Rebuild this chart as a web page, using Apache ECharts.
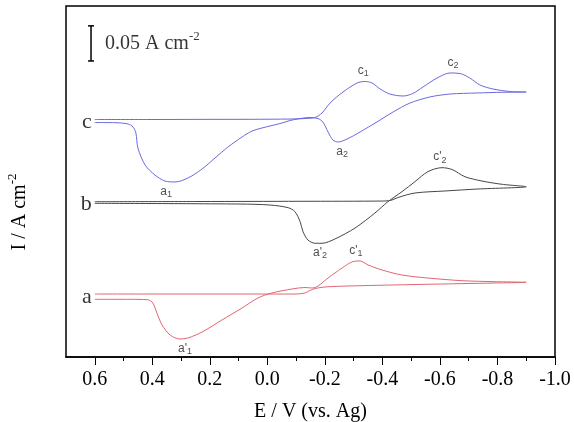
<!DOCTYPE html>
<html>
<head>
<meta charset="utf-8">
<script src="https://cdn.jsdelivr.net/npm/echarts@6/dist/echarts.min.js"></script>
<style>
    html, body { margin: 0; padding: 0; background: #fff; }
    #chart { width: 574px; height: 422px; }
</style>
</head>
<body>
<div id="chart"></div>
<script>
// E in V (vs. Ag), I in A cm^-2 (each curve shifted up for display)
const curveA = [
    [0.60, 0.0897], [-0.096, 0.0897], [-0.131, 0.0912], [-0.148, 0.0947], [-0.169, 0.0979],
    [-0.211, 0.1001], [-0.329, 0.1016], [-0.558, 0.1036], [-0.791, 0.1054], [-0.90, 0.1064],
    [-0.791, 0.1073], [-0.677, 0.1087], [-0.558, 0.1125], [-0.468, 0.1168], [-0.399, 0.1239],
    [-0.350, 0.1311], [-0.322, 0.1368], [-0.298, 0.1360], [-0.260, 0.1268], [-0.211, 0.1125],
    [-0.176, 0.1011], [-0.155, 0.0983], [-0.131, 0.0990], [-0.086, 0.0969], [-0.016, 0.0912],
    [0.033, 0.0840], [0.088, 0.0698], [0.158, 0.0527], [0.227, 0.0356], [0.276, 0.0271],
    [0.304, 0.0256], [0.338, 0.0313], [0.366, 0.0456], [0.384, 0.0627], [0.398, 0.0769],
    [0.415, 0.0815], [0.478, 0.0822], [0.60, 0.0822]
];
const curveB = [
    [0.60, 0.2212], [0.234, 0.2215], [-0.114, 0.2218], [-0.409, 0.2222], [-0.433, 0.2236],
    [-0.454, 0.2272], [-0.513, 0.2336], [-0.618, 0.2365], [-0.732, 0.2393], [-0.90, 0.2426],
    [-0.816, 0.2460], [-0.746, 0.2507], [-0.687, 0.2568], [-0.642, 0.2671], [-0.607, 0.2697],
    [-0.558, 0.2640], [-0.513, 0.2497], [-0.468, 0.2355], [-0.419, 0.2212], [-0.374, 0.2051],
    [-0.305, 0.1838], [-0.235, 0.1681], [-0.190, 0.1620], [-0.166, 0.1620], [-0.141, 0.1667],
    [-0.124, 0.1785], [-0.114, 0.1927], [-0.096, 0.2070], [-0.072, 0.2127], [-0.009, 0.2165],
    [0.095, 0.2179], [0.60, 0.2189]
];
const curveC = [
    [0.60, 0.3383], [0.408, 0.3383], [0.234, 0.3385], [0.060, 0.3386], [-0.079, 0.3390],
    [-0.131, 0.3397], [-0.166, 0.3412], [-0.190, 0.3476], [-0.218, 0.3618], [-0.263, 0.3775],
    [-0.312, 0.3903], [-0.339, 0.3925], [-0.364, 0.3903], [-0.392, 0.3818], [-0.426, 0.3746],
    [-0.472, 0.3718], [-0.506, 0.3754], [-0.541, 0.3846], [-0.590, 0.3974], [-0.635, 0.4046],
    [-0.670, 0.4038], [-0.704, 0.3974], [-0.739, 0.3875], [-0.784, 0.3818], [-0.844, 0.3782],
    [-0.90, 0.3775],
    [-0.819, 0.3771], [-0.729, 0.3761], [-0.635, 0.3746], [-0.565, 0.3704], [-0.496, 0.3618],
    [-0.437, 0.3490], [-0.381, 0.3348], [-0.322, 0.3205], [-0.277, 0.3105], [-0.246, 0.3063],
    [-0.228, 0.3091], [-0.211, 0.3205], [-0.193, 0.3348], [-0.176, 0.3397], [-0.148, 0.3412],
    [-0.114, 0.3397], [-0.079, 0.3369], [-0.051, 0.3333], [0.019, 0.3262], [0.053, 0.3219],
    [0.088, 0.3134], [0.137, 0.2991], [0.182, 0.2835], [0.227, 0.2678], [0.276, 0.2550],
    [0.321, 0.2493], [0.356, 0.2507], [0.391, 0.2593], [0.425, 0.2735], [0.450, 0.2977],
    [0.457, 0.3191], [0.467, 0.3276], [0.484, 0.3319], [0.530, 0.3338], [0.60, 0.3340]
];
const curveTags = ['a', 'b', 'c'];

// peak labels: name, E, I
const peakLabels = [
    ['c1', -0.333, 0.3925],
    ['c2', -0.645, 0.4046],
    ['a2', -0.260, 0.3063],
    ['a1', 0.352, 0.2493],
    ["c'2", -0.600, 0.2697],
    ["a'2", -0.183, 0.1620],
    ["c'1", -0.308, 0.1368],
    ["a'1", 0.286, 0.0256]
];

// scale bar, 0.05 A cm^-2
const scaleBar = [[0.613, 0.4217], [0.613, 0.4717]];

const xLabelValues = [0.6, 0.4, 0.2, 0.0, -0.2, -0.4, -0.6, -0.8, -1.0];
const xMinorValues = [0.5, 0.3, 0.1, -0.1, -0.3, -0.5, -0.7, -0.9];

const serif = '"Liberation Serif", "Times New Roman", serif';
const sans = '"Liberation Sans", Arial, sans-serif';
const colors = { a: '#e26670', b: '#474747', c: '#6a6ade' };

const curves = { a: curveA, b: curveB, c: curveC };

function peakText(name) {
    return '{b|' + name.slice(0, -1) + '}{s|' + name.slice(-1) + '}';
}
const peakRich = {
    b: { fontFamily: sans, fontSize: 12, color: '#222', lineHeight: 14 },
    s: { fontFamily: sans, fontSize: 9, color: '#222', padding: [6, 0, 0, 0] }
};

const series = curveTags.map(function (k) {
    return {
        type: 'line',
        data: curves[k],
        showSymbol: false,
        smooth: 0.3,
        lineStyle: { color: colors[k], width: 1 },
        silent: true
    };
});

series.push({
    type: 'scatter',
    data: curveTags.map(function (k) { return { value: curves[k][0], name: k }; }),
    symbolSize: 0,
    silent: true,
    label: {
        show: true,
        position: 'left',
        distance: 3,
        formatter: '{b}',
        fontFamily: serif,
        fontSize: 22,
        color: '#000',
        offset: [0, 3]
    }
});

series.push({
    type: 'scatter',
    data: peakLabels.filter(function (p) { return p[0][0] === 'c'; })
        .map(function (p) { return { value: [p[1], p[2]], name: p[0] }; }),
    symbolSize: 0,
    silent: true,
    label: {
        show: true,
        position: 'top',
        distance: 3,
        formatter: function (p) { return peakText(p.name); },
        rich: peakRich
    }
});

series.push({
    type: 'scatter',
    data: peakLabels.filter(function (p) { return p[0][0] === 'a'; })
        .map(function (p) { return { value: [p[1], p[2]], name: p[0] }; }),
    symbolSize: 0,
    silent: true,
    label: {
        show: true,
        position: 'bottom',
        distance: 2,
        formatter: function (p) { return peakText(p.name); },
        rich: peakRich
    }
});

series.push({
    type: 'line',
    data: scaleBar,
    symbol: 'rect',
    symbolSize: [6, 1.5],
    showSymbol: true,
    silent: true,
    itemStyle: { color: '#000' },
    lineStyle: { color: '#000', width: 1.5 }
});

series.push({
    type: 'scatter',
    data: [[scaleBar[0][0], (scaleBar[0][1] + scaleBar[1][1]) / 2]],
    symbolSize: 0,
    silent: true,
    label: {
        show: true,
        position: 'right',
        distance: 14,
        formatter: '{n|0.05 A cm}{sup|-2}',
        rich: {
            n: { fontFamily: serif, fontSize: 20, color: '#000' },
            sup: { fontFamily: serif, fontSize: 13, color: '#000', padding: [0, 0, 14, 0] }
        }
    }
});

const myChart = echarts.init(document.getElementById('chart'));

const option = {
    animation: false,
    backgroundColor: '#fff',
    grid: {
        left: 66,
        right: 19,
        top: 6,
        bottom: 65,
        show: true,
        borderColor: '#000',
        borderWidth: 1.5,
        containLabel: false,
        outerBoundsMode: 'none'
    },
    xAxis: [
        {
            type: 'value',
            min: -1.0,
            max: 0.7,
            inverse: true,
            position: 'bottom',
            name: 'E / V (vs. Ag)',
            nameLocation: 'middle',
            nameGap: 45,
            nameTextStyle: { fontFamily: serif, fontSize: 20, color: '#000' },
            axisLine: { show: true, onZero: false, lineStyle: { color: '#000', width: 1.5 } },
            axisTick: { show: true, inside: false, length: 8, customValues: xLabelValues, lineStyle: { color: '#000', width: 1 } },
            axisLabel: {
                show: true,
                customValues: xLabelValues,
                margin: 13,
                fontFamily: serif,
                fontSize: 20,
                color: '#000',
                formatter: function (v) { return v.toFixed(1); }
            },
            splitLine: { show: false }
        },
        {
            type: 'value',
            min: -1.0,
            max: 0.7,
            inverse: true,
            position: 'bottom',
            axisLine: { show: false, onZero: false },
            axisTick: { show: true, inside: false, length: 4, customValues: xMinorValues, lineStyle: { color: '#000', width: 1 } },
            axisLabel: { show: false },
            splitLine: { show: false }
        }
    ],
    yAxis: {
        type: 'value',
        min: 0,
        max: 0.5,
        axisLine: { show: false, onZero: false },
        axisTick: { show: false },
        axisLabel: { show: false },
        splitLine: { show: false }
    },
    graphic: [
        {
            type: 'text',
            x: 20,
            y: 212,
            rotation: Math.PI / 2,
            style: {
                text: '{n|I / A cm}{sup|-2}',
                align: 'center',
                verticalAlign: 'middle',
                rich: {
                    n: { fontFamily: serif, fontSize: 20, fill: '#000' },
                    sup: { fontFamily: serif, fontSize: 13, fill: '#000', padding: [0, 0, 14, 0] }
                }
            }
        }
    ],
    series: series
};

myChart.setOption(option);
</script>
</body>
</html>
